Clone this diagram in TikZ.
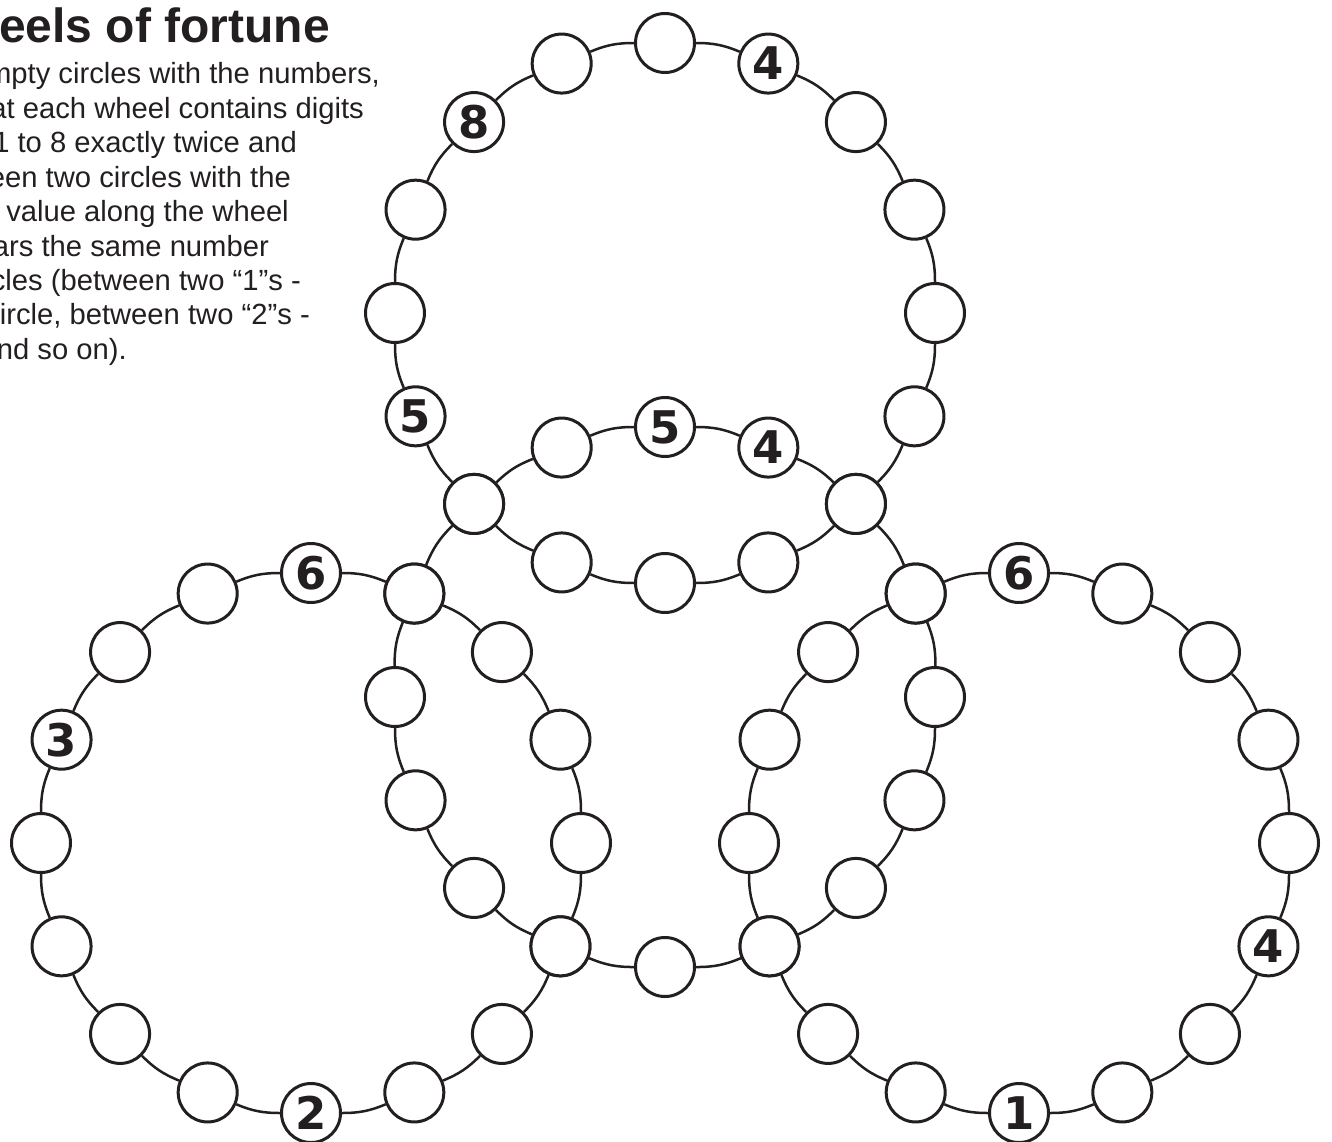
\documentclass[tikz,border=0pt]{standalone}
\usepackage{fontspec}
\setmainfont{Liberation Sans}
\newfontfamily\digitfont{DejaVu Sans}
\definecolor{ink}{HTML}{231F20}

\begin{document}
\begin{tikzpicture}[x=1pt, y=1pt,
  ring/.style={circle, draw=ink, line width=3pt, fill=white,
    minimum size=59pt, inner sep=0pt},
  link/.style={draw=ink, line width=2.5pt},
  digit/.style={font=\digitfont\bfseries\fontsize{45}{45}\selectfont,
    text=ink, inner sep=0pt},
  textline/.style={anchor=base east, font=\fontsize{29.2}{34}\selectfont,
    text=ink, inner sep=0pt}]
  \useasboundingbox (0,0) rectangle (1332,-1142);

  % task text, cut off at the left edge
  \node[anchor=base east, inner sep=0pt, text=ink,
    font=\bfseries\fontsize{48}{48}\selectfont] (title) at (330,-43)
    {eels of fortune};
  \foreach \i/\x/\s in {1/380/{mpty circles with the numbers,},
      2/364/{at each wheel contains digits},
      3/297/{1 to 8 exactly twice and},
      4/291/{een two circles with the},
      5/289/{value along the wheel},
      6/269/{ars the same number},
      7/301/{cles (between two “1”s -},
      8/310/{ircle, between two “2”s -},
      9/127/{nd so on).}}
    \node[textline] (line\i) at (\x,{-49.6-34.4*\i}) {\s};

  % wheel centres
  \coordinate (cT) at (665,-313);
  \coordinate (cC) at (665,-697);
  \coordinate (cL) at (311,-843);
  \coordinate (cR) at (1019,-843);

  % outer wheels, 16 rings each, clockwise from the top
  \foreach \w in {T,L,R}
    \foreach \k in {0,...,15}
      \path (c\w) ++({90-22.5*\k}:270) node[ring] (\w\k) {};
  % centre wheel: six of its rings are shared with the others
  \foreach \k/\src in {2/T6, 3/R15, 7/R11, 9/L5, 13/L1, 14/T10}
    \node[ring] (C\k) at (\src) {};
  \foreach \k in {0,1,4,5,6,8,10,11,12,15}
    \path (cC) ++({90-22.5*\k}:270) node[ring] (C\k) {};

  % arcs between neighbouring rings
  \foreach \w in {T,C,L,R}
    \foreach \k in {0,...,15} {
      \pgfmathtruncatemacro\nxt{mod(\k+1,16)}
      \draw[link] (\w\k) to[bend left=11.25] (\w\nxt);
    }

  % given digits
  \foreach \r/\d in {T1/4, T11/5, T14/8, C0/5, C1/4, L0/6, L8/2, L13/3,
      R0/6, R5/4, R8/1}
    \node[digit] (n\r) at (\r) {\d};
\end{tikzpicture}
\end{document}
